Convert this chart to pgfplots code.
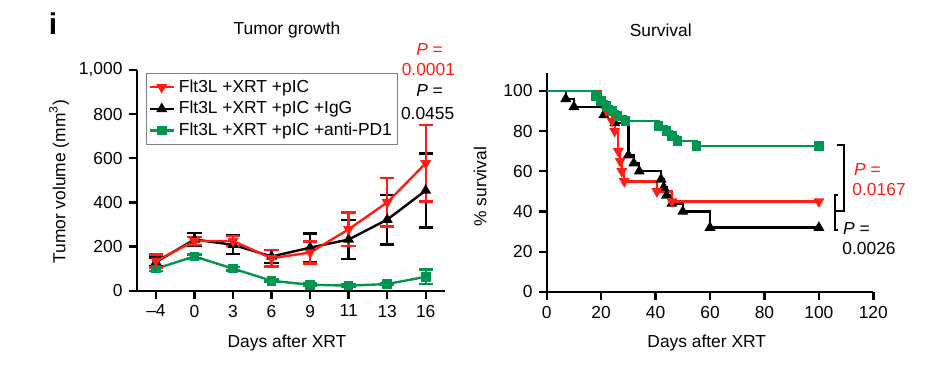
\documentclass[border=0pt]{standalone}
\usepackage{pgfplots}
\pgfplotsset{compat=1.18}
\usepackage{fontspec}
\setmainfont{Liberation Sans}
\definecolor{cred}{RGB}{255,30,20}
\definecolor{cgreen}{RGB}{0,150,80}
\pgfplotsset{
  common/.style={
    scale only axis,
    axis x line=bottom, axis y line=left,
    axis line style={line width=1.2pt,-},
    tick align=outside,
    major tick length=4pt,
    tick style={line width=1.2pt,black},
    clip=false,
    /pgf/number format/assume math mode=true,
    /pgf/number format/1000 sep={,},
    tick label style={font=\fontsize{8.7}{10}\selectfont},
    label style={font=\fontsize{8.7}{10}\selectfont},
    title style={font=\fontsize{8.7}{10}\selectfont},
  },
  ebar/.style={error bars/.cd, y dir=both, y explicit,
    error bar style={line width=1.2pt},
    error mark=|,
    error mark options={mark size=3.6pt,line width=1.3pt,solid}},
}
\begin{document}
\fontsize{8.7}{10}\selectfont
\begin{tikzpicture}
\useasboundingbox (0,0) rectangle (475.5pt,187pt);
\node[font=\fontsize{15}{15}\bfseries\selectfont] at (26.5pt,175pt) {i};
% ---------------- Tumor growth
\begin{axis}[common,
  at={(68.35pt,41.65pt)}, anchor=south west,
  width=154.15pt, height=110.35pt,
  xmin=-0.5, xmax=7.5, ymin=0, ymax=1000,
  xtick={0,...,7}, xticklabels={–4,0,3,6,9,11,13,16},
  ytick={0,200,400,600,800,1000},
  title={Tumor growth},
  title style={at={(axis description cs:0.4875,1.127)},anchor=center},
  xlabel={Days after XRT},
  xlabel style={at={(axis description cs:0.4875,-0.238)},anchor=center},
  ylabel={Tumor volume (mm\textsuperscript{3})},
  ylabel style={at={(axis description cs:-0.252,0.494)},anchor=center,rotate=0},
  reverse legend,
  legend style={at={(axis description cs:0.03,0.986)},anchor=north west,
    draw=gray, line width=0.6pt, font=\fontsize{8.7}{10}\selectfont,
    inner sep=1pt, row sep=-0.8pt},
  legend cell align=left,
  legend image code/.code={\draw[#1,mark repeat=2,mark phase=2] plot coordinates {(0pt,0pt)(6pt,0pt)(12pt,0pt)};},
  every axis plot/.append style={line width=1.2pt},
]
\addplot[cgreen, mark=square*, mark size=1.8pt, mark options={solid}, ebar]
  table[x=x,y=y,y error=e] {
x y e
0 100 10
1 155 8
2 100 8
3 45 6
4 27 5
5 23 5
6 30 5
7 63 32
};
\addlegendentry{Flt3L +XRT +pIC +anti-PD1}
\addplot[black, mark=triangle*, mark size=2pt, ebar]
  table[x=x,y=y,y error=e] {
x y e
0 130 20
1 232 30
2 208 42
3 155 30
4 195 65
5 232 88
6 322 112
7 454 168
};
\addlegendentry{Flt3L +XRT +pIC +IgG}
\addplot[cred, mark=triangle*, mark size=2pt, mark options={rotate=180}, ebar]
  table[x=x,y=y,y error=e] {
x y e
0 135 30
1 225 18
2 225 22
3 147 38
4 173 49
5 278 75
6 400 110
7 577 174
};
\addlegendentry{Flt3L +XRT +pIC}
\node[cred,anchor=center] at (axis cs:7.1,1095) {\textit{P} =};
\node[cred,anchor=center] at (axis cs:7.07,1000) {0.0001};
\node[black,anchor=center] at (axis cs:7.1,906) {\textit{P} =};
\node[black,anchor=center] at (axis cs:7.05,804) {0.0455};
\end{axis}
% ---------------- Survival
\begin{axis}[common,
  at={(273.35pt,41pt)}, anchor=south west,
  width=163.3pt, height=109.65pt,
  xmin=0, xmax=120, ymin=0, ymax=109,
  xtick={0,20,...,120}, ytick={0,20,...,100},
  title={Survival},
  title style={at={(axis description cs:0.349,1.14)},anchor=center},
  xlabel={Days after XRT},
  xlabel style={at={(axis description cs:0.49,-0.234)},anchor=center},
  ylabel={\% survival},
  ylabel style={at={(axis description cs:-0.204,0.48)},anchor=center},
  every axis plot/.append style={line width=1.2pt, const plot, mark phase=2, mark repeat=1},
]
\addplot[black, mark=triangle*, mark size=2pt] coordinates {
(0,100)(7,96)(10,92)(21,88)(25,84)(30,68)(32,64)(34,60)(42,56)(43,52)(44,48)(46,44)(50,40)(60,32)(100,32)};
\addplot[cred, mark=triangle*, mark size=2pt, mark options={rotate=180}] coordinates {
(0,100)(20,95)(22,90)(24,85)(25,80)(26.3,70)(27,65)(27.6,60)(28.5,55)(40.5,50)(46,45)(100,45)};
\addplot[cgreen, mark=square*, mark size=1.8pt] coordinates {
(0,100)(18,97.5)(20,95)(22,92.5)(24,90)(26,87.5)(29,85)(41,82.5)(44,80)(46,77.5)(48,75)(55,72.5)(100,72.5)};
\draw[black,line width=1.2pt] (axis cs:106.7,73.1) -- (axis cs:109.2,73.1) -- (axis cs:109.2,40.3) -- (axis cs:106.2,40.3);
\draw[black,line width=1.2pt] (axis cs:106.9,48.3) -- (axis cs:105.9,48.3) -- (axis cs:105.9,30.8) -- (axis cs:106.9,30.8);
\node[cred,anchor=west,inner sep=0pt] at (axis cs:112.8,60.7) {\textit{P} =};
\node[cred,anchor=west,inner sep=0pt] at (axis cs:112.2,50.7) {0.0167};
\node[black,anchor=west,inner sep=0pt] at (axis cs:108.8,31.7) {\textit{P} =};
\node[black,anchor=west,inner sep=0pt] at (axis cs:108.5,21.7) {0.0026};
\end{axis}
\end{tikzpicture}
\end{document}
